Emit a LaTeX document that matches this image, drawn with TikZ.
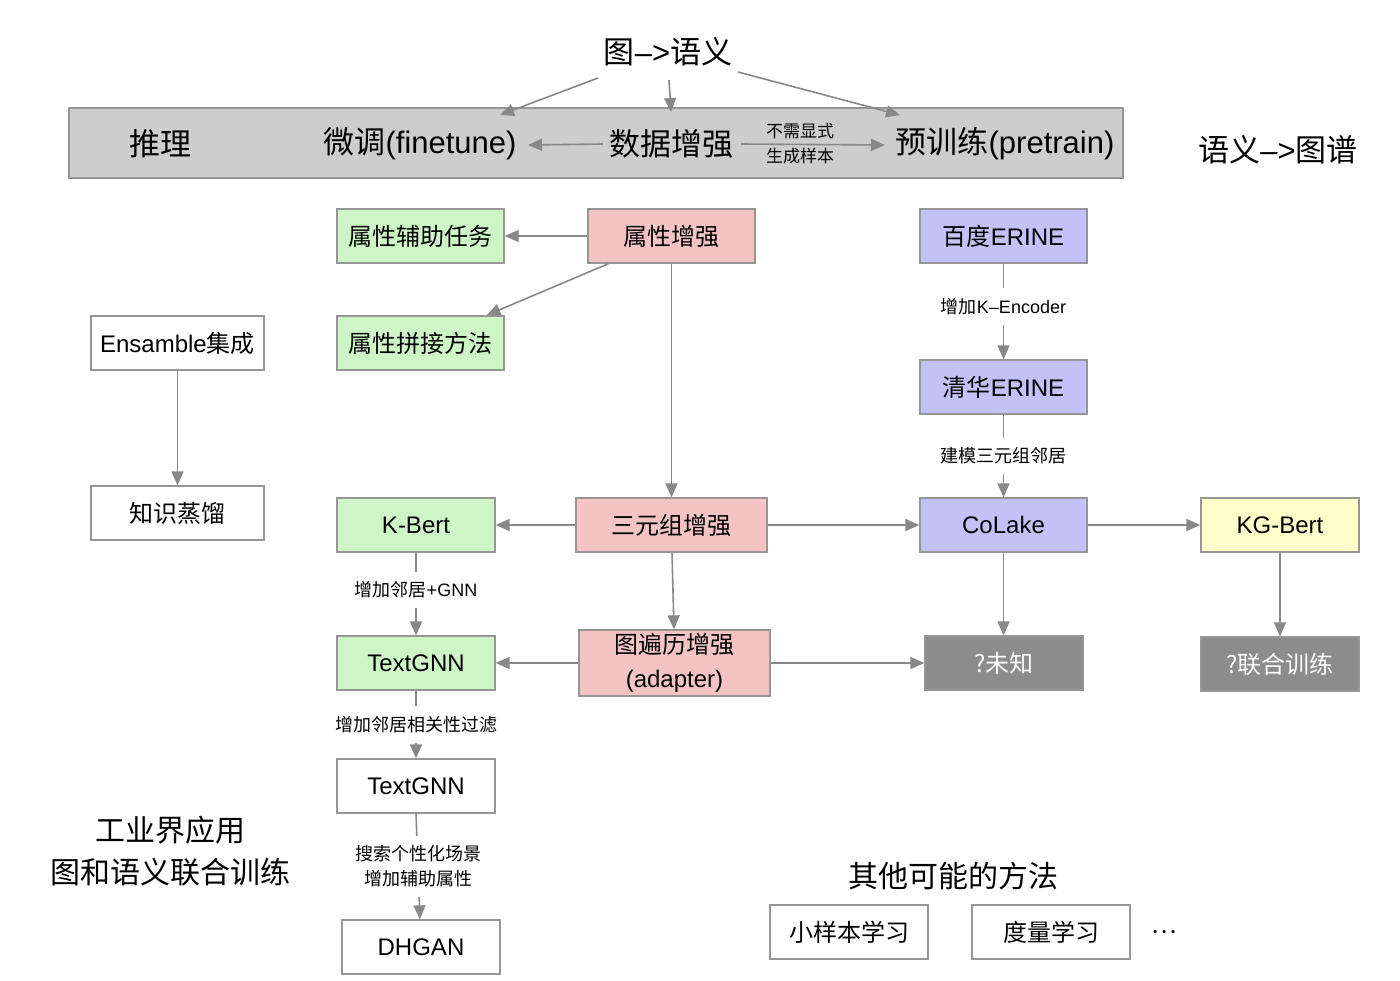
\documentclass[tikz,border=0pt]{standalone}
\usepackage{fontspec}
\setmainfont{Noto Sans CJK SC}
\newfontfamily\lat{Liberation Sans}
\usetikzlibrary{arrows.meta}
\definecolor{edgegray}{RGB}{136,136,136}
\definecolor{bordergray}{RGB}{150,150,150}
\definecolor{bandfill}{RGB}{205,205,205}
\definecolor{greenfill}{RGB}{206,245,198}
\definecolor{pinkfill}{RGB}{244,196,196}
\definecolor{bluefill}{RGB}{194,194,248}
\definecolor{yellowfill}{RGB}{255,255,202}
\definecolor{darkfill}{RGB}{140,140,140}
\tikzset{
  box/.style={draw=bordergray,line width=1.3pt,inner sep=0pt,minimum height=54pt,
    font=\fontsize{24}{34}\selectfont,align=center},
  gbox/.style={box,fill=greenfill},
  pbox/.style={box,fill=pinkfill},
  bbox/.style={box,fill=bluefill},
  ybox/.style={box,fill=yellowfill},
  dbox/.style={box,fill=darkfill,text=white},
  wbox/.style={box,fill=white},
  arr/.style={draw=edgegray,line width=1.6pt,-{Triangle[length=14pt,width=12pt]}},
  lbl/.style={fill=white,font=\fontsize{18}{25}\selectfont,inner xsep=2pt,inner ysep=10pt,align=center},
  big/.style={font=\fontsize{30}{42}\selectfont,inner sep=0pt,align=center},
  mid/.style={font=\fontsize{31}{36}\selectfont,inner sep=0pt}
}
\begin{document}
\begin{tikzpicture}[x=1pt,y=-1pt]
\useasboundingbox[fill=white] (0,0) rectangle (1400,980);
% top band
\node[draw=bordergray,line width=1.3pt,fill=bandfill,minimum width=1054pt,minimum height=70pt,inner sep=0pt] (band) at (596,143) {};
\node[mid] (title) at (668,52) {图{\lat –>}语义};
\node[mid] (infer) at (160,144) {推理};
\node[mid] (ft) at (420,144) {微调{\lat (ﬁnetune)}};
\node[mid] (da) at (671,144) {数据增强};
\node[font=\fontsize{17}{25}\selectfont,align=center,inner sep=0pt] (gen) at (800,144) {不需显式\\生成样本};
\node[mid] (pt) at (1005,144) {预训练{\lat (pretrain)}};
\node[mid] (s2g) at (1278,150) {语义{\lat –>}图谱};
\coordinate (t1) at (598,78);
\coordinate (t2) at (669,80);
\coordinate (t3) at (738,72);
\coordinate (e1) at (500,115);
\coordinate (e2) at (671,112);
\coordinate (e3) at (900,115);
\draw[arr] (t1) -- (e1);
\draw[arr] (t2) -- (e2);
\draw[arr] (t3) -- (e3);
\draw[arr] (da.west) ++(-6,0) coordinate (dal) -- (528,145) coordinate (ftr);
\draw[arr] (da.east) ++(8,0) coordinate (dar) -- (885,145) coordinate (ptl);

% boxes
\node[gbox,minimum width=167pt] (aux) at (420.5,236) {属性辅助任务};
\node[pbox,minimum width=167pt] (attr) at (671.5,236) {属性增强};
\node[bbox,minimum width=167pt] (baidu) at (1003.5,236) {百度{\lat ERINE}};
\node[wbox,minimum width=173pt] (ens) at (177.5,343) {{\lat Ensamble}集成};
\node[gbox,minimum width=167pt] (concat) at (420.5,343) {属性拼接方法};
\node[bbox,minimum width=167pt] (qh) at (1003.5,387) {清华{\lat ERINE}};
\node[wbox,minimum width=173pt] (distill) at (177.5,513) {知识蒸馏};
\node[gbox,minimum width=158pt] (kbert) at (416,525) {\lat K-Bert};
\node[pbox,minimum width=191pt] (triple) at (671.5,525) {三元组增强};
\node[bbox,minimum width=167pt] (colake) at (1003.5,525) {\lat CoLake};
\node[ybox,minimum width=158pt] (kgbert) at (1280,525) {\lat KG-Bert};
\node[gbox,minimum width=158pt] (tg1) at (416,663) {\lat TextGNN};
\node[pbox,minimum width=191pt,minimum height=66pt] (walk) at (674.5,663) {图遍历增强\\{\lat (adapter)}};
\node[dbox,minimum width=158pt] (unk) at (1004,663) {?未知};
\node[dbox,minimum width=158pt] (joint) at (1280,664) {?联合训练};
\node[wbox,minimum width=158pt] (tg2) at (416,786) {\lat TextGNN};
\node[wbox,minimum width=158pt] (dhgan) at (421,947) {\lat DHGAN};
\node[wbox,minimum width=158pt] (few) at (849,932) {小样本学习};
\node[wbox,minimum width=158pt] (metric) at (1051,932) {度量学习};
\node[font=\fontsize{24}{30}\selectfont,inner sep=0pt] (dots) at (1164,932) {…};
\node[big] (ind) at (170,851) {工业界应用\\图和语义联合训练};
\node[big] (other) at (953,876) {其他可能的方法};

% edges
\draw[arr] (attr) -- (aux);
\draw[arr] ([xshift=-63pt]attr.south) -- ([xshift=66pt]concat.north);
\draw[arr] (attr.south) -- (triple.north);
\draw[arr] (triple) -- (kbert);
\draw[arr] (triple) -- (colake);
\draw[arr] ([xshift=0.5pt]triple.south) -- ([xshift=-0.5pt]walk.north);
\draw[arr] (walk) -- (tg1);
\draw[arr] (walk) -- (unk);
\draw[arr] (colake.south) -- (colake.south |- unk.north);
\draw[arr] (colake) -- (kgbert);
\draw[arr] (kgbert) -- (joint);
\draw[arr] (ens) -- (distill);
\draw[arr] (baidu) -- node[lbl,pos=0.45]{增加{\lat K–Encoder}} (qh);
\draw[arr] (qh) -- node[lbl,pos=0.5]{建模三元组邻居} (colake);
\draw[arr] (kbert) -- node[lbl,pos=0.45]{增加邻居{\lat +GNN}} (tg1);
\draw[arr] (tg1) -- node[lbl,pos=0.5]{增加邻居相关性过滤} (tg2);
\draw[arr] (tg2.south) -- node[lbl,pos=0.5]{搜索个性化场景\\增加辅助属性} ([xshift=-1pt]dhgan.north);
\end{tikzpicture}
\end{document}
